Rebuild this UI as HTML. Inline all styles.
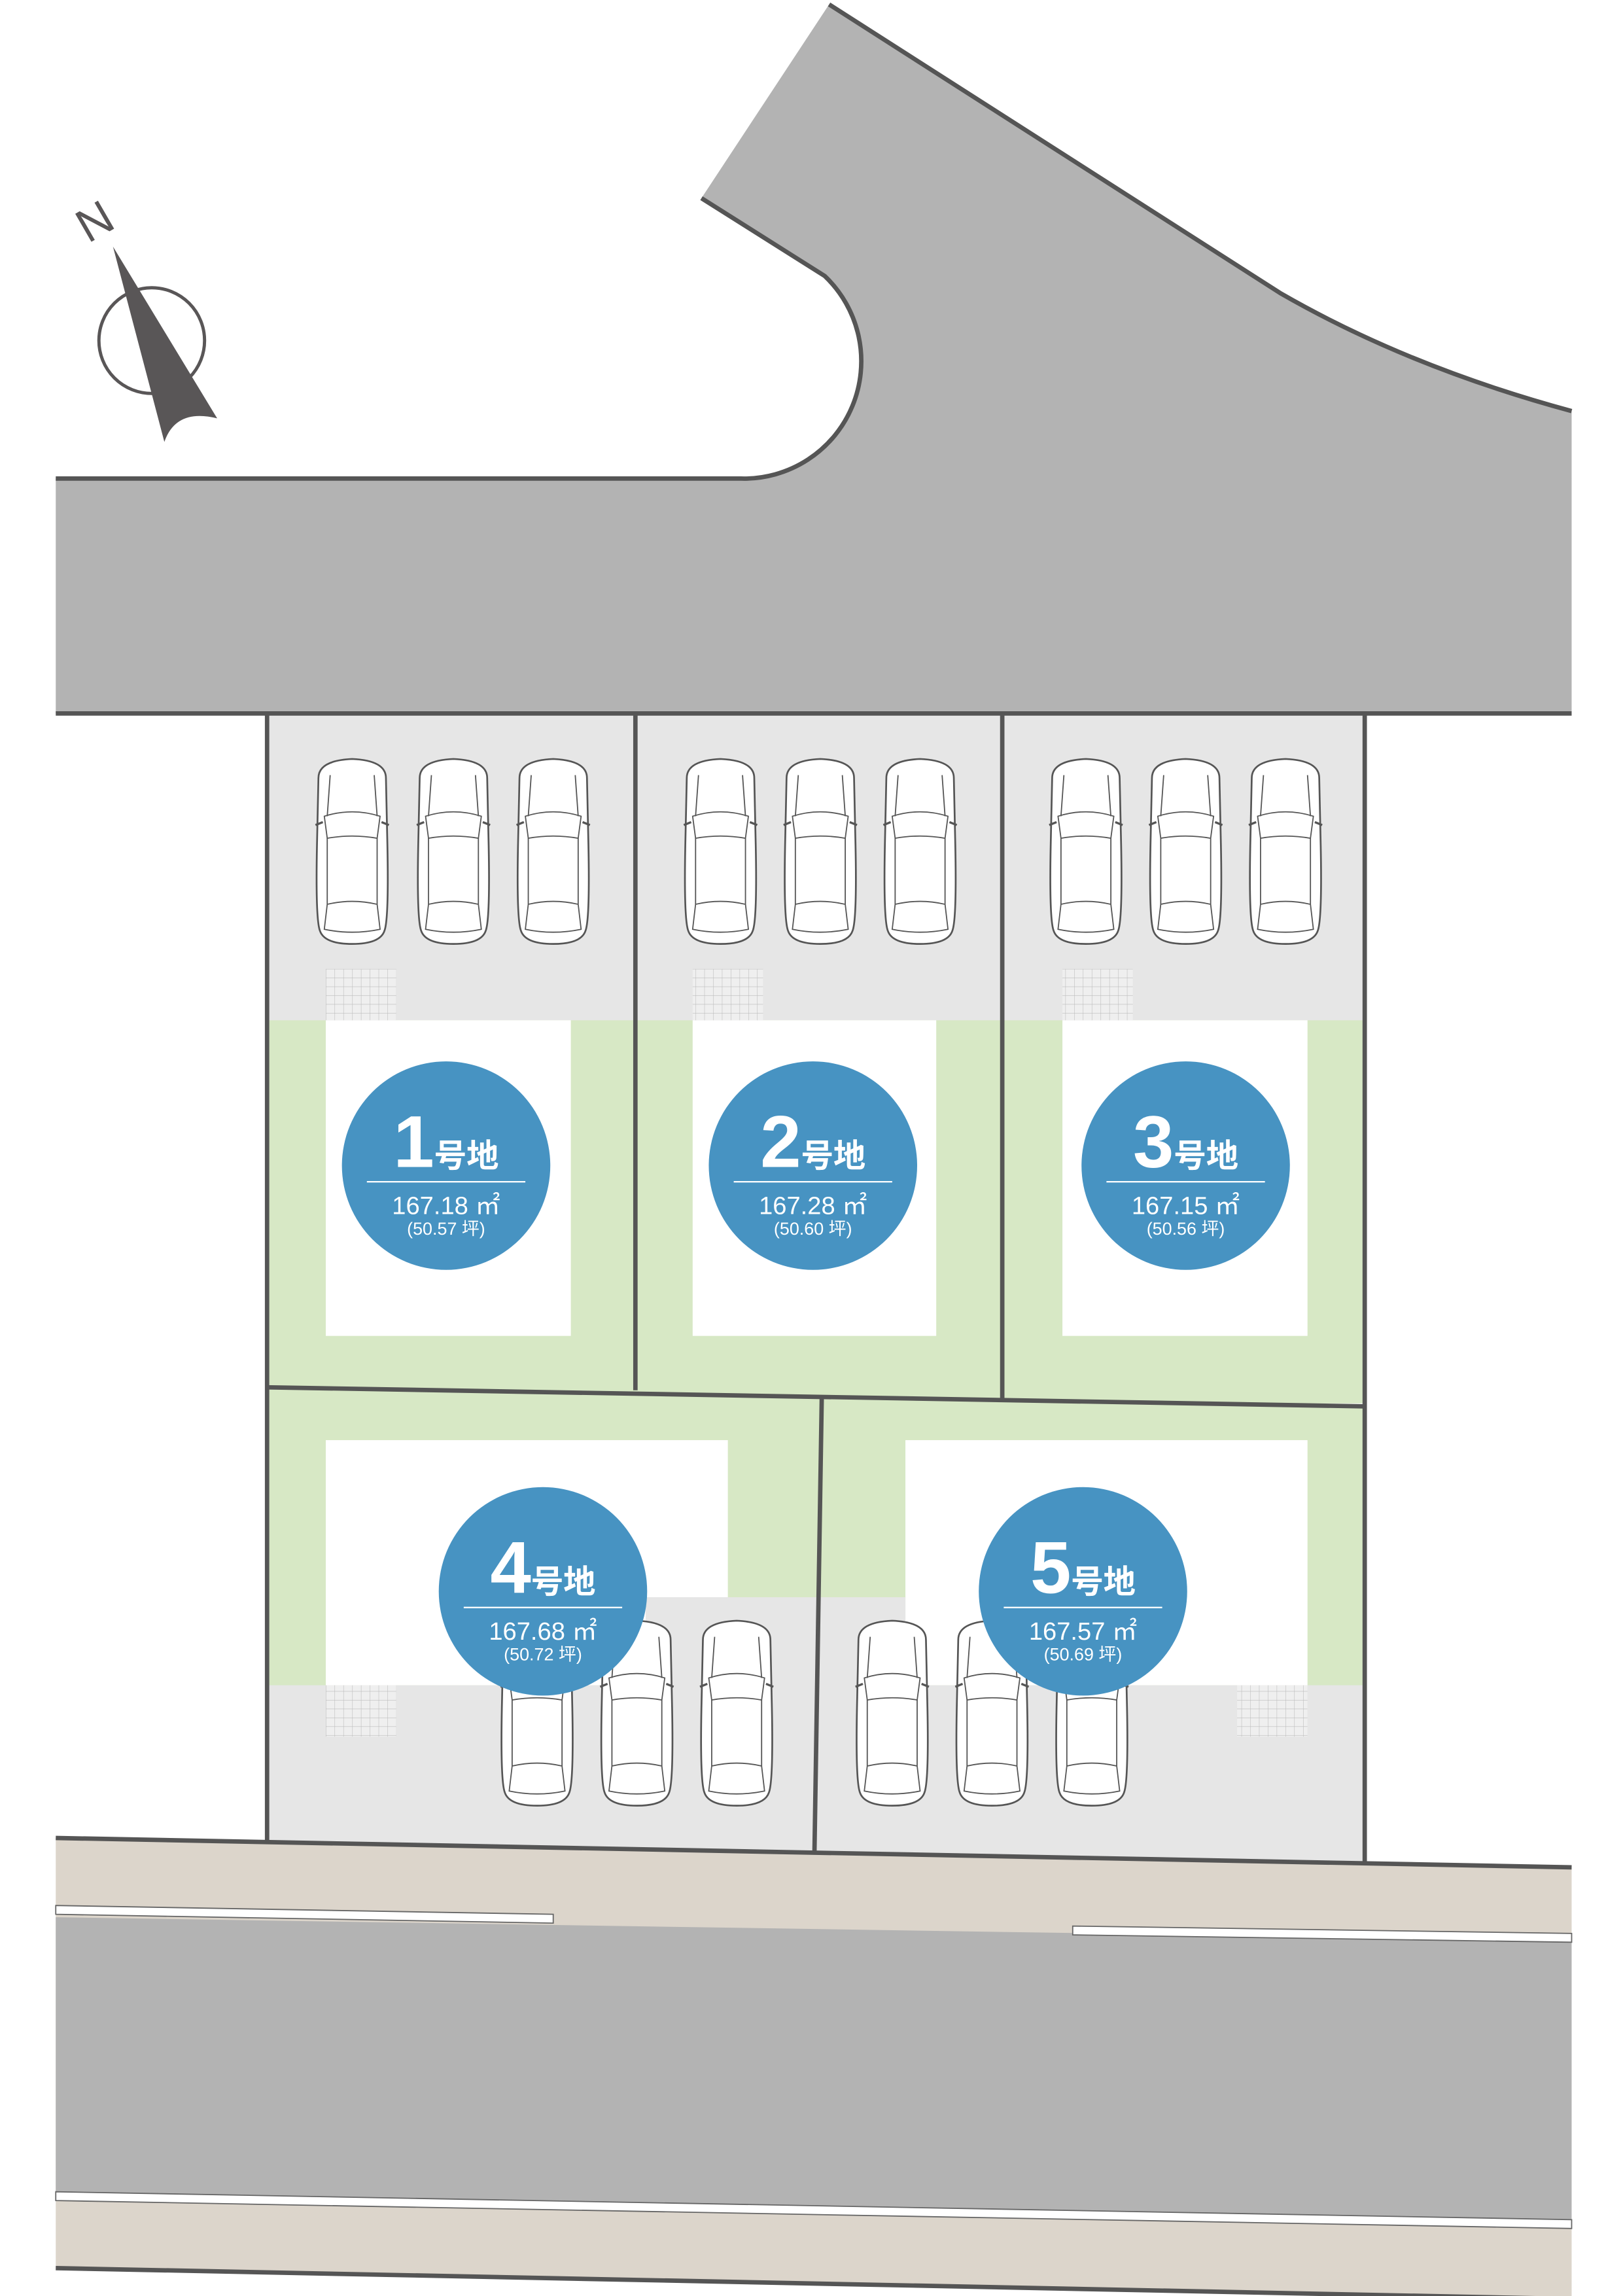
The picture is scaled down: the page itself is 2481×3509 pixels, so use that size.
<!DOCTYPE html>
<html><head><meta charset="utf-8"><style>
html,body{margin:0;padding:0;background:#fff}
svg{display:block}
text{font-family:"Liberation Sans","Noto Sans CJK JP",sans-serif;fill:#fff}
</style></head><body>
<svg width="2481" height="3509" viewBox="0 0 1106 1564" preserveAspectRatio="none" xmlns="http://www.w3.org/2000/svg" xmlns:xlink="http://www.w3.org/1999/xlink">
<defs>
<g id="car">
<path d="M4,14 Q4,2 27,1 Q50,2 50,14 L51,60 Q52,110 49,118 Q46,127 27,127 Q8,127 5,118 Q2,110 3,60 Z" fill="#fff" stroke="#555" stroke-width="1.2"/>
<path d="M8,40 Q27,34 46,40 L44,55 Q27,52 10,55 Z" fill="none" stroke="#555" stroke-width="0.8"/>
<path d="M12,12 L10,40 M42,12 L44,40 M10,55 L10,100 M44,55 L44,100 M10,100 Q27,96 44,100 L46,117 Q27,121 8,117 Z" fill="none" stroke="#555" stroke-width="0.8"/>
<path d="M2,46 L7,44 M52,46 L47,44" stroke="#555" stroke-width="1.5"/>
</g>
<pattern id="grid" width="6" height="6" patternUnits="userSpaceOnUse"><rect width="6" height="6" fill="#efefef"/><path d="M0,0 H6 M0,0 V6" stroke="#bbb" stroke-width="0.5"/></pattern>
</defs>

<path d="M38,326 L505,326 A80,80 0 0 0 562,188 L478,135 L565,3 L873,200 Q960,250 1071,280 L1071,486 L38,486 Z" fill="#b3b3b3"/>
<path d="M38,326 L505,326 A80,80 0 0 0 562,188 L478,135 M565,3 L873,200 Q960,250 1071,280" fill="none" stroke="#555" stroke-width="3"/>

<circle cx="103.4" cy="232" r="36" fill="none" stroke="#595657" stroke-width="2.2"/>
<path d="M77,168 L148,285 Q120,278 112,301 Z" fill="#595657"/>
<text x="60" y="166" font-size="32" style="fill:#595657" transform="rotate(-30 60 166)">N</text>

<rect x="182" y="486" width="748" height="470" fill="#d7e8c5"/>
<rect x="182" y="486" width="748" height="209" fill="#e6e6e6"/>
<polygon points="182,945 930,958 930,1270 182,1256" fill="#d7e8c5"/>
<rect x="222" y="695" width="167" height="215" fill="#fff"/>
<rect x="472" y="695" width="166" height="215" fill="#fff"/>
<rect x="724" y="695" width="167" height="215" fill="#fff"/>
<rect x="222" y="660" width="48" height="35" fill="url(#grid)"/>
<rect x="472" y="660" width="48" height="35" fill="url(#grid)"/>
<rect x="724" y="660" width="48" height="35" fill="url(#grid)"/>

<rect x="222" y="981" width="274" height="167" fill="#fff"/>
<rect x="617" y="981" width="274" height="167" fill="#fff"/>
<polygon points="182,1148 930,1148 930,1270 182,1256" fill="#e6e6e6"/>
<rect x="440" y="1088" width="177" height="62" fill="#e6e6e6"/>
<rect x="222" y="1148" width="48" height="35" fill="url(#grid)"/>
<rect x="843" y="1148" width="48" height="35" fill="url(#grid)"/>

<use xlink:href="#car" x="213" y="516"/><use xlink:href="#car" x="282" y="516"/><use xlink:href="#car" x="350" y="516"/>
<use xlink:href="#car" x="464" y="516"/><use xlink:href="#car" x="532" y="516"/><use xlink:href="#car" x="600" y="516"/>
<use xlink:href="#car" x="713" y="516"/><use xlink:href="#car" x="781" y="516"/><use xlink:href="#car" x="849" y="516"/>
<use xlink:href="#car" x="339" y="1103"/><use xlink:href="#car" x="407" y="1103"/><use xlink:href="#car" x="475" y="1103"/>
<use xlink:href="#car" x="581" y="1103"/><use xlink:href="#car" x="649" y="1103"/><use xlink:href="#car" x="717" y="1103"/>

<g stroke="#555" stroke-width="3" fill="none">
<path d="M182,486 L182,1256 M930,486 L930,1270 M38,486 L1071,486"/>
<path d="M433,486 L433,947 M683,486 L683,954"/>
<path d="M182,945 L930,958"/>
<path d="M560,951 L555,1263"/>
</g>

<polygon points="38,1252 1071,1272 1071,1566 38,1545" fill="#dcd5cb"/>
<polygon points="38,1306 1071,1322 1071,1514 38,1497" fill="#b3b3b3"/>
<path d="M38,1252 L1071,1272 M38,1545 L1071,1566" stroke="#555" stroke-width="3"/>
<polygon points="38,1298 377,1304 377,1310 38,1304" fill="#fff" stroke="#666" stroke-width="0.8"/>
<polygon points="731,1312 1071,1317 1071,1323 731,1318" fill="#fff" stroke="#666" stroke-width="0.8"/>
<polygon points="38,1493 1071,1512 1071,1518 38,1499" fill="#fff" stroke="#666" stroke-width="0.8"/>

<g>
<circle cx="304" cy="794" r="71" fill="#4793c2"/>
<text x="304" y="795" text-anchor="middle" font-weight="bold"><tspan font-size="50">1</tspan><tspan font-size="22">号地</tspan></text>
<line x1="250" y1="805" x2="358" y2="805" stroke="#fff" stroke-width="1"/>
<text x="304" y="827" font-size="17" text-anchor="middle">167.18 ㎡</text>
<text x="304" y="841" font-size="12" text-anchor="middle">(50.57 坪)</text>
</g>
<g>
<circle cx="554" cy="794" r="71" fill="#4793c2"/>
<text x="554" y="795" text-anchor="middle" font-weight="bold"><tspan font-size="50">2</tspan><tspan font-size="22">号地</tspan></text>
<line x1="500" y1="805" x2="608" y2="805" stroke="#fff" stroke-width="1"/>
<text x="554" y="827" font-size="17" text-anchor="middle">167.28 ㎡</text>
<text x="554" y="841" font-size="12" text-anchor="middle">(50.60 坪)</text>
</g>
<g>
<circle cx="808" cy="794" r="71" fill="#4793c2"/>
<text x="808" y="795" text-anchor="middle" font-weight="bold"><tspan font-size="50">3</tspan><tspan font-size="22">号地</tspan></text>
<line x1="754" y1="805" x2="862" y2="805" stroke="#fff" stroke-width="1"/>
<text x="808" y="827" font-size="17" text-anchor="middle">167.15 ㎡</text>
<text x="808" y="841" font-size="12" text-anchor="middle">(50.56 坪)</text>
</g>
<g>
<circle cx="370" cy="1084" r="71" fill="#4793c2"/>
<text x="370" y="1085" text-anchor="middle" font-weight="bold"><tspan font-size="50">4</tspan><tspan font-size="22">号地</tspan></text>
<line x1="316" y1="1095" x2="424" y2="1095" stroke="#fff" stroke-width="1"/>
<text x="370" y="1117" font-size="17" text-anchor="middle">167.68 ㎡</text>
<text x="370" y="1131" font-size="12" text-anchor="middle">(50.72 坪)</text>
</g>
<g>
<circle cx="738" cy="1084" r="71" fill="#4793c2"/>
<text x="738" y="1085" text-anchor="middle" font-weight="bold"><tspan font-size="50">5</tspan><tspan font-size="22">号地</tspan></text>
<line x1="684" y1="1095" x2="792" y2="1095" stroke="#fff" stroke-width="1"/>
<text x="738" y="1117" font-size="17" text-anchor="middle">167.57 ㎡</text>
<text x="738" y="1131" font-size="12" text-anchor="middle">(50.69 坪)</text>
</g>
</svg>
</body></html>
